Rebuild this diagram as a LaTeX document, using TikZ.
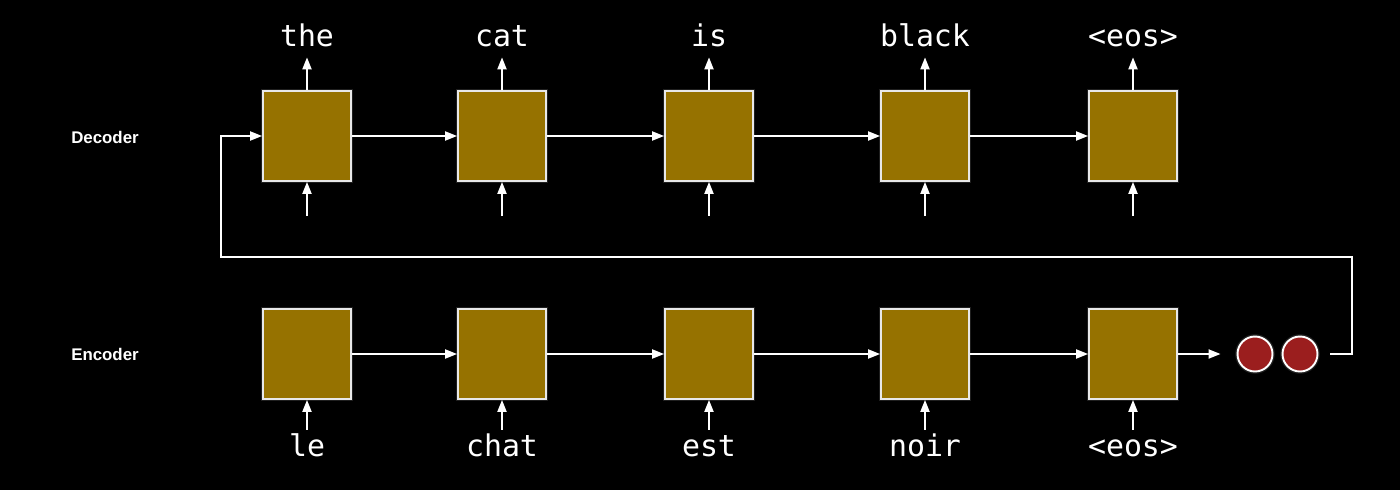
\documentclass[tikz,border=0pt]{standalone}
\usepackage{fontspec}
\usepackage{xcolor}
\usepackage{tikz}
\usetikzlibrary{arrows.meta}
\newfontfamily\wordfont{DejaVu Sans Mono}
\newfontfamily\tagfont{Liberation Sans}
\definecolor{CellGold}{RGB}{150,114,0}
\definecolor{StateRed}{RGB}{155,30,30}
\definecolor{EdgeGray}{RGB}{232,232,232}

\begin{document}
\begin{tikzpicture}[x=0.02cm, y=-0.02cm, line/.style={-{Triangle[length=2.4mm,width=1.8mm]}, draw=white, line width=1.1pt}, cell/.style={rectangle, fill=CellGold, draw=EdgeGray, line width=1pt, minimum width=1.76cm, minimum height=1.8cm, inner sep=0, preaction={draw=white, opacity=0.12, line width=2.6pt}}, state/.style={circle, fill=StateRed, draw=white, line width=1.1pt, minimum size=0.7cm, inner sep=0, preaction={draw=white, opacity=0.12, line width=2.6pt}}, word/.style={white, node font=\wordfont\fontsize{17}{20}\selectfont, anchor=base, inner sep=0, text height=0.45cm, text depth=0pt}, tag/.style={white, node font=\tagfont\bfseries\fontsize{9.6}{11}\selectfont}]

  \fill[black] (0,0) rectangle (1400,490);
  \useasboundingbox (0,0) rectangle (1400,490);

  \node[tag] (tagDecoder) at (105,137) {Decoder};
  \node[tag] (tagEncoder) at (105,354) {Encoder};

  \node[cell] (decoderThe)   at (307,136)  {};
  \node[cell] (decoderCat)   at (502,136)  {};
  \node[cell] (decoderIs)    at (709,136)  {};
  \node[cell] (decoderBlack) at (925,136)  {};
  \node[cell] (decoderEos)   at (1133,136) {};

  \node[cell] (encoderLe)    at (307,354)  {};
  \node[cell] (encoderChat)  at (502,354)  {};
  \node[cell] (encoderEst)   at (709,354)  {};
  \node[cell] (encoderNoir)  at (925,354)  {};
  \node[cell] (encoderEos)   at (1133,354) {};

  \node[state] (stateA) at (1255,354) {};
  \node[state] (stateB) at (1300,354) {};

  \node[word] (wordThe)   at (307,47)  {the};
  \node[word] (wordCat)   at (502,47)  {cat};
  \node[word] (wordIs)    at (709,47)  {is};
  \node[word] (wordBlack) at (925,47)  {black};
  \node[word] (wordEosD)  at (1133,47) {<eos>};

  \node[word] (wordLe)    at (307,456)  {le};
  \node[word] (wordChat)  at (502,456)  {chat};
  \node[word] (wordEst)   at (709,456)  {est};
  \node[word] (wordNoir)  at (925,456)  {noir};
  \node[word] (wordEosE)  at (1133,456) {<eos>};

  \coordinate (inThe)   at (307,216);
  \coordinate (inCat)   at (502,216);
  \coordinate (inIs)    at (709,216);
  \coordinate (inBlack) at (925,216);
  \coordinate (inEos)   at (1133,216);
  \coordinate (loopRight) at (1352,257);
  \coordinate (loopLeft)  at (221,257);

  \draw [line,shorten >=0.2cm] (decoderThe.north)   -- (wordThe.south);
  \draw [line,shorten >=0.2cm] (decoderCat.north)   -- (wordCat.south);
  \draw [line,shorten >=0.2cm] (decoderIs.north)    -- (wordIs.south);
  \draw [line,shorten >=0.2cm] (decoderBlack.north) -- (wordBlack.south);
  \draw [line,shorten >=0.2cm] (decoderEos.north)   -- (wordEosD.south);

  \draw [line] (inThe)   -- (decoderThe.south);
  \draw [line] (inCat)   -- (decoderCat.south);
  \draw [line] (inIs)    -- (decoderIs.south);
  \draw [line] (inBlack) -- (decoderBlack.south);
  \draw [line] (inEos)   -- (decoderEos.south);

  \draw [line] (decoderThe)   -- (decoderCat);
  \draw [line] (decoderCat)   -- (decoderIs);
  \draw [line] (decoderIs)    -- (decoderBlack);
  \draw [line] (decoderBlack) -- (decoderEos);

  \draw [line,shorten <=0.07cm] (wordLe.north)   -- (encoderLe.south);
  \draw [line,shorten <=0.07cm] (wordChat.north) -- (encoderChat.south);
  \draw [line,shorten <=0.07cm] (wordEst.north)  -- (encoderEst.south);
  \draw [line,shorten <=0.07cm] (wordNoir.north) -- (encoderNoir.south);
  \draw [line,shorten <=0.07cm] (wordEosE.north) -- (encoderEos.south);

  \draw [line] (encoderLe)   -- (encoderChat);
  \draw [line] (encoderChat) -- (encoderEst);
  \draw [line] (encoderEst)  -- (encoderNoir);
  \draw [line] (encoderNoir) -- (encoderEos);
  \draw [line,shorten >=0.32cm] (encoderEos) -- (stateA);

  \draw [line,shorten <=0.24cm] (stateB.east) -| (loopRight) -- (loopLeft) |- (decoderThe.west);
\end{tikzpicture}
\end{document}
